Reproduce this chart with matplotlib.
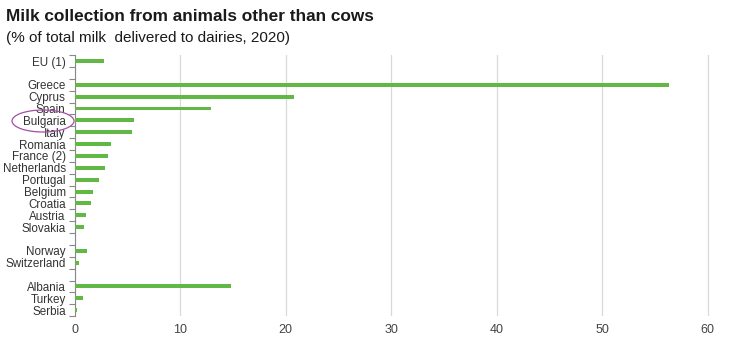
import matplotlib.pyplot as plt
from matplotlib.patches import Ellipse
import numpy as np

plt.rcParams['font.family'] = ['Liberation Sans', 'DejaVu Sans']

# countries top to bottom, "" = empty slot used as a gap
paises = ["EU (1)", "", "Greece", "Cyprus", "Spain", "Bulgaria", "Italy", "Romania",
          "France (2)", "Netherlands", "Portugal", "Belgium", "Croatia", "Austria",
          "Slovakia", "", "Norway", "Switzerland", "", "Albania", "Turkey", "Serbia"]
valores = [2.8, None, 56.3, 20.8, 12.9, 5.6, 5.4, 3.4,
           3.2, 2.9, 2.3, 1.7, 1.5, 1.1,
           0.85, None, 1.2, 0.4, None, 14.8, 0.8, 0.2]

verde = '#62b845'

fig = plt.figure(figsize=(7.4, 3.58), dpi=100)
ax = fig.add_axes([0.101, 0.117, 0.861, 0.729])

pos = np.arange(len(paises))
for p, v in zip(pos, valores):
    if v is not None:
        ax.barh(p, v, height=0.33, color=verde, zorder=3)

ax.set_ylim(len(paises) - 0.5, -0.5)
ax.set_xlim(0, 60.4)
ax.set_yticks(pos)
ax.set_yticklabels(paises, fontsize=8.4, color='#333333')
ax.set_yticks(np.arange(-0.5, len(paises), 1), minor=True)
ax.tick_params(axis='y', which='major', length=0, pad=6.5)
ax.tick_params(axis='y', which='minor', length=4, color='#888888', width=0.8)

ax.set_xticks([0, 10, 20, 30, 40, 50, 60])
ax.tick_params(axis='x', length=0, labelsize=9, labelcolor='#444444', pad=6)
ax.grid(axis='x', color='#d9d9d9', linewidth=0.9, zorder=0)

for s in ['top', 'right', 'bottom']:
    ax.spines[s].set_visible(False)
ax.spines['left'].set_color('#888888')
ax.spines['left'].set_linewidth(0.8)

fig.text(0.008, 0.955, "Milk collection from animals other than cows",
         fontsize=12.4, fontweight='bold', color='#1a1a1a', va='center')
fig.text(0.008, 0.895, "(% of total milk  delivered to dairies, 2020)",
         fontsize=11, color='#1a1a1a', va='center')

# purple ring around Bulgaria
ring = Ellipse((43 / 740, 1 - 121 / 358), 62 / 740, 22 / 358,
               transform=fig.transFigure, fill=False, edgecolor='#a64ca6', linewidth=0.9)
fig.patches.append(ring)

fig.savefig("out.png", dpi=100)
